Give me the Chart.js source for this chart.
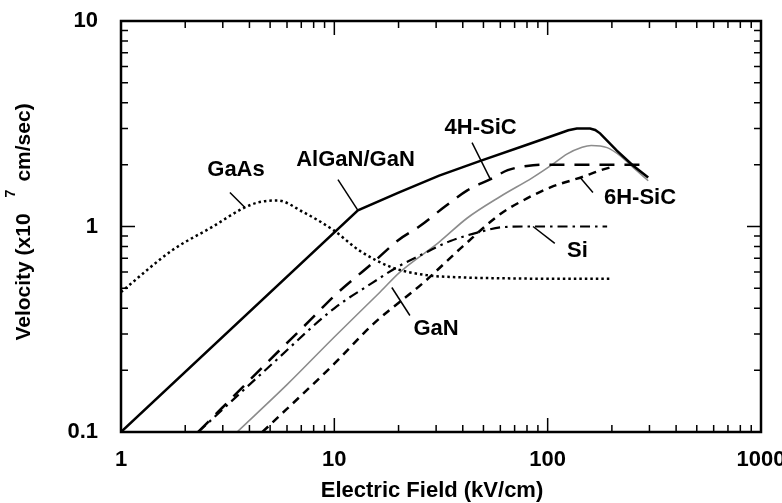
<!DOCTYPE html>
<html>
<head>
<meta charset="utf-8">
<script src="https://cdn.jsdelivr.net/npm/chart.js@4.4.0/dist/chart.umd.min.js"></script>
<style>
  html, body { margin: 0; padding: 0; background: #fff; }
  #wrap { width: 782px; height: 503px; position: relative; }
</style>
</head>
<body>
<div id="wrap"><canvas id="velocityChart"></canvas></div>
<script>
// drift velocity vs field, [kV/cm, x1e7 cm/s]
const algan = [[1,0.1],[12.9,1.2],[20,1.46],[31,1.77],[48,2.08],[80,2.5],[115,2.85],[125,2.94],[137,3.0],[158,3.0],[167,2.95],[176,2.84],[211,2.34],[251,1.98],[296,1.73]];
const gaas = [[1,0.48],[1.75,0.77],[2.7,1.0],[3.7,1.22],[4.4,1.31],[5.4,1.34],[7.1,1.18],[9.9,0.96],[13.2,0.76],[18.8,0.63],[27,0.58],[40,0.565],[60,0.56],[100,0.557],[200,0.557]];
const sic4h = [[2.3,0.1],[5,0.225],[7.7,0.35],[10,0.46],[15,0.66],[20,0.86],[25,1.0],[33,1.25],[42,1.5],[54,1.7],[65,1.88],[80,1.97],[100,2.0],[300,2.0]];
const si = [[2.3,0.1],[5,0.21],[10,0.4],[15,0.53],[20,0.64],[25,0.72],[35,0.85],[48,0.94],[60,0.99],[80,1.0],[190,1.0]];
const gan = [[3.5,0.1],[6,0.17],[10,0.29],[16.4,0.48],[20.3,0.6],[31,0.84],[42,1.1],[60,1.4],[85,1.73],[105,2.0],[123,2.25],[145,2.43],[160,2.48],[190,2.42],[220,2.2],[250,1.95],[296,1.67]];
const sic6h = [[4.6,0.1],[10,0.215],[15.2,0.335],[26,0.53],[40,0.8],[60,1.15],[80,1.37],[103,1.55],[147,1.75],[175,1.87],[200,1.95]];

const xMajor = [1, 10, 100, 1000];
const yMajor = [0.1, 1, 10];

// curve labels and their leader lines, in data units
const labelText = ['GaAs', 'AlGaN/GaN', '4H-SiC', '6H-SiC', 'Si', 'GaN'];
const labelAt = [[3.46,1.89],[12.57,2.11],[48.5,3.02],[271,1.38],[138,0.764],[30,0.319]];
const leaders = [
  [[3.24,1.464],[3.81,1.237]],
  [[10.4,1.69],[12.9,1.197]],
  [[44.2,2.56],[53.7,1.71]],
  [[142,1.73],[163,1.464]],
  [[85.4,1.0],[108,0.827]],
  [[18.6,0.505],[22.6,0.369]]
];

const FONT = "'Liberation Sans', Arial, Helvetica, sans-serif";

const toPoints = arr => arr.map(p => ({ x: p[0], y: p[1] }));

function series(data, color, width, dash, smooth) {
  return {
    data: toPoints(data),
    borderColor: color,
    borderWidth: width,
    borderDash: dash,
    pointRadius: 0,
    fill: false,
    tension: 0,
    cubicInterpolationMode: smooth ? 'monotone' : 'default'
  };
}

// minor tick values for a log decade range
function minorValues(min, max) {
  const out = [];
  for (let d = min; d < max; d *= 10) {
    for (let k = 2; k <= 9; k++) out.push(d * k);
  }
  return out;
}

const framePlugin = {
  id: 'frame',
  afterDatasetsDraw(chart) {
    const { ctx, chartArea: a, scales } = chart;
    const xs = scales.x, ys = scales.y;
    ctx.save();
    ctx.strokeStyle = '#000';
    ctx.lineWidth = 2.5;
    ctx.strokeRect(a.left, a.top, a.right - a.left, a.bottom - a.top);

    ctx.lineWidth = 1.5;
    const tick = (v, len, horiz) => {
      ctx.beginPath();
      if (horiz) {
        const px = xs.getPixelForValue(v);
        ctx.moveTo(px, a.bottom); ctx.lineTo(px, a.bottom - len);
        ctx.moveTo(px, a.top); ctx.lineTo(px, a.top + len);
      } else {
        const py = ys.getPixelForValue(v);
        ctx.moveTo(a.left, py); ctx.lineTo(a.left + len, py);
        ctx.moveTo(a.right, py); ctx.lineTo(a.right - len, py);
      }
      ctx.stroke();
    };
    xMajor.forEach(v => tick(v, 14, true));
    minorValues(1, 1000).forEach(v => tick(v, 7, true));
    yMajor.forEach(v => tick(v, 14, false));
    minorValues(0.1, 10).forEach(v => tick(v, 7, false));

    // leader lines and curve names
    ctx.lineWidth = 1.5;
    leaders.forEach(seg => {
      ctx.beginPath();
      ctx.moveTo(xs.getPixelForValue(seg[0][0]), ys.getPixelForValue(seg[0][1]));
      ctx.lineTo(xs.getPixelForValue(seg[1][0]), ys.getPixelForValue(seg[1][1]));
      ctx.stroke();
    });
    ctx.fillStyle = '#000';
    ctx.font = 'bold 22px ' + FONT;
    ctx.textAlign = 'center';
    ctx.textBaseline = 'middle';
    labelText.forEach((t, i) => {
      ctx.fillText(t, xs.getPixelForValue(labelAt[i][0]), ys.getPixelForValue(labelAt[i][1]));
    });
    ctx.restore();
  },
  afterDraw(chart) {
    const { ctx } = chart;
    ctx.save();
    ctx.fillStyle = '#000';
    ctx.textBaseline = 'middle';

    ctx.font = 'bold 22px ' + FONT;
    ctx.textAlign = 'center';
    ctx.fillText('Electric Field (kV/cm)', 432, 491);

    // rotated y title with a raised exponent
    const head = 'Velocity (x10', sup = '7', tail = 'cm/sec)';
    ctx.translate(24, 222);
    ctx.rotate(-Math.PI / 2);
    ctx.textAlign = 'left';
    ctx.font = 'bold 21px ' + FONT;
    const w1 = ctx.measureText(head).width;
    const w2 = ctx.measureText(tail).width;
    ctx.font = 'bold 14px ' + FONT;
    const ws = ctx.measureText(sup).width;
    const g1 = 16, g2 = 8;
    let x0 = -(w1 + g1 + ws + g2 + w2) / 2;
    ctx.font = 'bold 21px ' + FONT;
    ctx.fillText(head, x0, 0);
    x0 += w1 + g1;
    ctx.font = 'bold 14px ' + FONT;
    ctx.fillText(sup, x0, -13);
    x0 += ws + g2;
    ctx.font = 'bold 21px ' + FONT;
    ctx.fillText(tail, x0, 0);
    ctx.restore();
  }
};

const tickFont = { family: FONT, size: 22, weight: 'bold' };

new Chart(document.getElementById('velocityChart'), {
  type: 'line',
  data: {
    datasets: [
      series(gaas, '#000', 2.5, [2.5, 3], true),
      series(algan, '#000', 2.5, [], false),
      series(sic4h, '#000', 2.5, [15, 10], true),
      series(si, '#000', 2.2, [10, 5, 2.5, 5], true),
      series(sic6h, '#000', 2.5, [8, 6], true),
      series(gan, '#8c8c8c', 1.6, [], true)
    ]
  },
  options: {
    responsive: true,
    maintainAspectRatio: false,
    devicePixelRatio: 1,
    animation: false,
    layout: { padding: { left: 0, right: 21, top: 21, bottom: 0 } },
    plugins: { legend: { display: false }, tooltip: { enabled: false } },
    scales: {
      x: {
        type: 'logarithmic',
        min: 1,
        max: 1000,
        grid: { display: false },
        border: { display: false },
        ticks: {
          color: '#000',
          font: tickFont,
          padding: 7,
          maxRotation: 0,
          callback: v => String(v)
        },
        afterBuildTicks: s => { s.ticks = xMajor.map(v => ({ value: v })); },
        afterFit: s => { s.height = 71; s.paddingLeft = 0; s.paddingRight = 0; }
      },
      y: {
        type: 'logarithmic',
        min: 0.1,
        max: 10,
        grid: { display: false },
        border: { display: false },
        ticks: {
          color: '#000',
          font: tickFont,
          padding: 15,
          callback: v => String(v)
        },
        afterBuildTicks: s => { s.ticks = yMajor.map(v => ({ value: v })); },
        afterFit: s => { s.width = 121; s.paddingTop = 0; s.paddingBottom = 0; }
      }
    }
  },
  plugins: [framePlugin]
});
</script>
</body>
</html>
